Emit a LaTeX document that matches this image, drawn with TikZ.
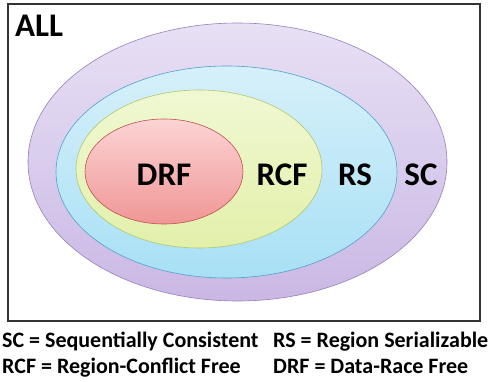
\documentclass[tikz,border=0pt]{standalone}
\usepackage{fontspec}
\setmainfont{Carlito}
\usepackage{tikz}
\usetikzlibrary{shapes.geometric}

\begin{document}
\begin{tikzpicture}[x=1pt,y=-1pt]
    \definecolor{scfill}{RGB}{232,224,245}
    \definecolor{scfillb}{RGB}{202,184,228}
    \definecolor{scline}{RGB}{150,128,185}
    \definecolor{rsfill}{RGB}{214,240,250}
    \definecolor{rsfillb}{RGB}{168,224,245}
    \definecolor{rsline}{RGB}{80,160,205}
    \definecolor{rcffill}{RGB}{240,248,210}
    \definecolor{rcffillb}{RGB}{226,240,170}
    \definecolor{rcfline}{RGB}{175,200,110}
    \definecolor{drffill}{RGB}{252,212,212}
    \definecolor{drffillb}{RGB}{240,150,150}
    \definecolor{drfline}{RGB}{190,80,80}

    \tikzstyle{set}=[ellipse,inner sep=0pt,line width=0.6pt]  % one set of the nesting
    \tikzstyle{setname}=[font=\fontsize{33}{33}\selectfont\bfseries,anchor=base]
    \tikzstyle{legend}=[font=\fontsize{22}{22}\selectfont\bfseries,anchor=base west,inner sep=0pt]

    \useasboundingbox (0,0) rectangle (490,382);

    % frame
    \node[draw=black!80,line width=1.3pt,inner sep=0pt,minimum width=472pt,minimum height=317pt] (all) at (244,162.5) {};
    \node[anchor=base west,inner sep=0pt,font=\fontsize{33}{33}\selectfont\bfseries] (alltext) at (15,37) {ALL};

    % the sets, outside in
    \node[set,draw=scline,top color=scfill,bottom color=scfillb,minimum width=419pt,minimum height=278pt] (sc) at (237.5,162) {};
    \node[set,draw=rsline,top color=rsfill,bottom color=rsfillb,minimum width=341pt,minimum height=212pt] (rs) at (226.5,172) {};
    \node[set,draw=rcfline,top color=rcffill,bottom color=rcffillb,minimum width=246pt,minimum height=158pt] (rcf) at (199,169) {};
    \node[set,draw=drfline,top color=drffill,bottom color=drffillb,minimum width=158pt,minimum height=105pt] (drf) at (164,171.5) {};

    % names
    \node[setname] (drftext) at (164,186) {DRF};
    \node[setname] (rcftext) at (282,186) {RCF};
    \node[setname] (rstext) at (355,186) {RS};
    \node[setname] (sctext) at (421,186) {SC};

    % legend
    \node[legend] (leg1) at (2,347) {SC = Sequentially Consistent};
    \node[legend] (leg2) at (273,347) {RS = Region Serializable};
    \node[legend] (leg3) at (2,373) {RCF = Region-Conflict Free};
    \node[legend] (leg4) at (273,373) {DRF = Data-Race Free};
\end{tikzpicture}
\end{document}
